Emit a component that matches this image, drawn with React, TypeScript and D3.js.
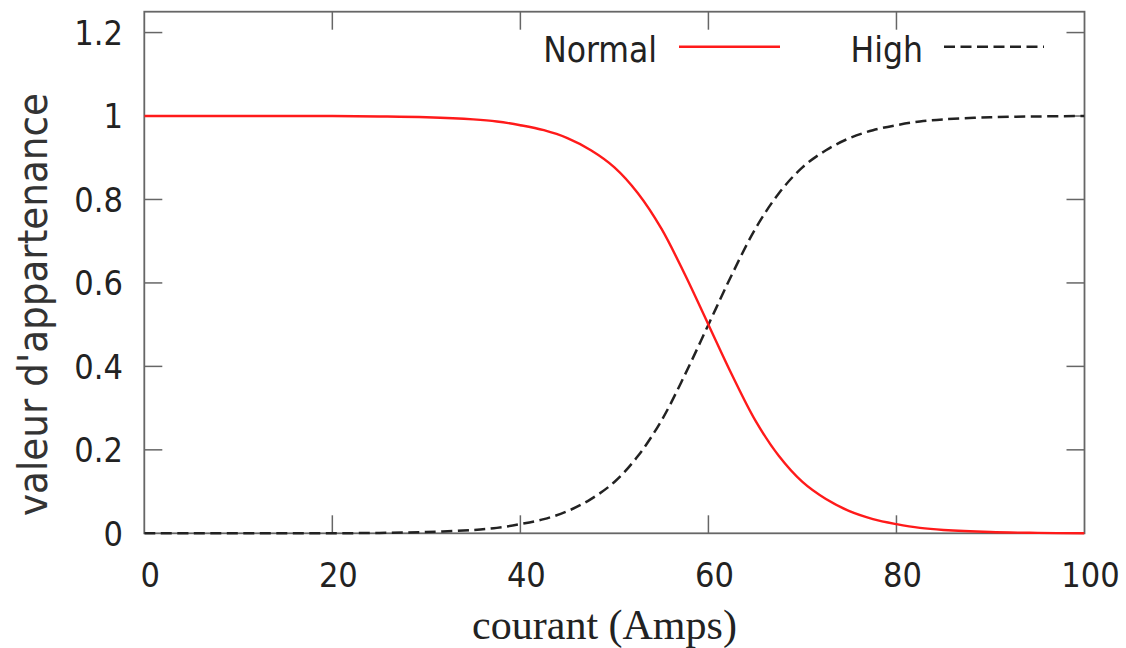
import React from "react";
import * as d3 from "d3";

const xValues = [0, 5, 10, 15, 20, 25, 30, 35, 37.5, 40, 42.5, 45, 47.5, 50, 52.5, 55, 57.5, 60, 62.5, 65, 67.5, 70, 72.5, 75, 77.5, 80, 82.5, 85, 90, 95, 100];
const normalValues = [1, 1, 1, 1, 1, 0.999, 0.997, 0.992, 0.987, 0.978, 0.966, 0.947, 0.918, 0.877, 0.815, 0.73, 0.62, 0.5, 0.38, 0.27, 0.185, 0.123, 0.082, 0.053, 0.034, 0.022, 0.013, 0.008, 0.003, 0.001, 0];
const highValues = [0, 0, 0, 0, 0, 0.001, 0.003, 0.008, 0.013, 0.022, 0.034, 0.053, 0.082, 0.123, 0.185, 0.27, 0.38, 0.5, 0.62, 0.73, 0.815, 0.877, 0.918, 0.947, 0.966, 0.978, 0.987, 0.992, 0.997, 0.999, 1];
const xTicks = [0, 20, 40, 60, 80, 100];
const yTicks = [0, 0.2, 0.4, 0.6, 0.8, 1, 1.2];
const yTickLabels = ["0", "0.2", "0.4", "0.6", "0.8", "1", "1.2"];
const seriesNames = ["Normal", "High"];

const W = 1126;
const H = 648;
const left = 144.3;
const right = 1084.5;
const top = 11.7;
const bottom = 533.3;

const sans = "'DejaVu Sans Condensed', 'DejaVu Sans', sans-serif";

export default function App() {
  const x = d3.scaleLinear().domain([0, 100]).range([left, right]);
  const y = d3.scaleLinear().domain([0, 1.25]).range([bottom, top]);
  const line = d3
    .line<number>()
    .x((_, i) => x(xValues[i]))
    .y((d) => y(d))
    .curve(d3.curveCatmullRom.alpha(0.5));
  const tickLen = 18;
  const frame = "#666";
  const red = "#ff1a1a";
  const dark = "#222";
  return (
    <div style={{ position: "absolute", left: 0, top: 0 }}>
      <svg width={W} height={H} style={{ display: "block", background: "#fff" }}>
        <defs>
          <clipPath id="plot">
            <rect x={left} y={top} width={right - left} height={bottom - top + 2} />
          </clipPath>
        </defs>
        {xTicks.slice(1, -1).map((t) => (
          <g key={"xt" + t} stroke={frame} strokeWidth={1.5}>
            <line x1={x(t)} x2={x(t)} y1={bottom} y2={bottom - tickLen} />
            <line x1={x(t)} x2={x(t)} y1={top} y2={top + tickLen} />
          </g>
        ))}
        {yTicks.slice(1).map((t) => (
          <g key={"yt" + t} stroke={frame} strokeWidth={1.5}>
            <line x1={left} x2={left + tickLen} y1={y(t)} y2={y(t)} />
            <line x1={right} x2={right - tickLen} y1={y(t)} y2={y(t)} />
          </g>
        ))}
        <rect x={left} y={top} width={right - left} height={bottom - top} fill="none" stroke={frame} strokeWidth={1.8} />
        <g clipPath="url(#plot)">
          <path d={line(highValues) || ""} fill="none" stroke={dark} strokeWidth={2.5} strokeDasharray="11,5.5" />
          <path d={line(normalValues) || ""} fill="none" stroke={red} strokeWidth={2.4} />
        </g>
        {xTicks.map((t) => (
          <text key={"xl" + t} x={x(t) + 6} y={587} textAnchor="middle" fontFamily={sans} fontStretch="condensed" fontSize={34} fill="#222">
            {t}
          </text>
        ))}
        {yTicks.map((t, i) => (
          <text key={"yl" + t} x={123} y={y(t)} dy="0.36em" textAnchor="end" fontFamily={sans} fontStretch="condensed" fontSize={34} fill="#222">
            {yTickLabels[i]}
          </text>
        ))}
        <text x={604.5} y={639} textAnchor="middle" fontFamily="'Liberation Serif', 'Times New Roman', serif" fontSize={42} fill="#222">
          courant (Amps)
        </text>
        <text transform={`translate(47,${(97 + 512) / 2}) rotate(-90)`} textAnchor="middle" fontFamily={sans} fontStretch="condensed" fontSize={41.5} fill="#333">
          valeur d'appartenance
        </text>
        <text x={657} y={61.5} textAnchor="end" fontFamily={sans} fontStretch="condensed" fontSize={35} fill="#222">
          {seriesNames[0]}
        </text>
        <line x1={679} x2={780} y1={46.7} y2={46.7} stroke={red} strokeWidth={2.4} />
        <text x={923} y={61.5} textAnchor="end" fontFamily={sans} fontStretch="condensed" fontSize={35} fill="#222">
          {seriesNames[1]}
        </text>
        <line x1={944} x2={1044} y1={46.7} y2={46.7} stroke={dark} strokeWidth={2.5} strokeDasharray="11,5.5" />
      </svg>
    </div>
  );
}
